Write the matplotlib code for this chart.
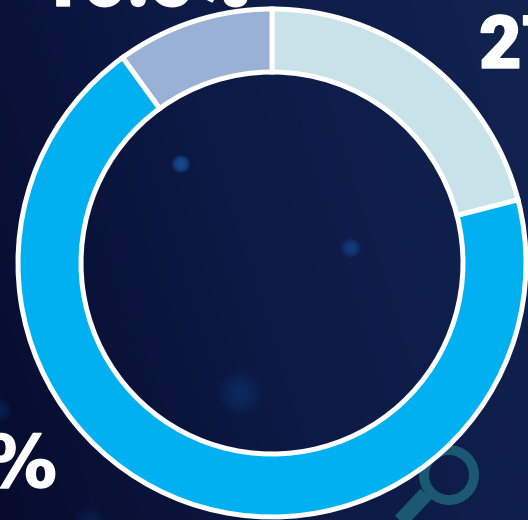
"""
Donut chart on a dark navy background
"""

import numpy as np
import matplotlib
matplotlib.use('Agg')
import matplotlib.pyplot as plt
import matplotlib.patheffects as pe
from matplotlib.colors import LinearSegmentedColormap
from matplotlib.patches import Wedge

# slices, clockwise from 12 o'clock
shares = [21, 69, 10]
colors = ['#c8e2e9', '#00b0f0', '#99b1d5']

# the labels are cut off by the crop of the original
label_texts = ['27', '%', '10.5%']

W, H = 528, 520

plt.rcParams['font.family'] = ['Roboto', 'DejaVu Sans']

fig = plt.figure(figsize=(W / 100, H / 100), dpi=100)
ax = fig.add_axes([0, 0, 1, 1])

# background gradient, darker on the left
bg_cmap = LinearSegmentedColormap.from_list('bg', ['#070c2e', '#0c1a45', '#11224f'])
gx, gy = np.meshgrid(np.linspace(0, 1, 264), np.linspace(0, 1, 260))
grad = np.clip(gx * 0.8 + (1 - gy) * 0.25, 0, 1)
ax.imshow(grad, cmap=bg_cmap, extent=(0, W, 0, H), origin='upper', aspect='auto', vmin=0, vmax=1, zorder=0)

# soft glow dots: x, y, radius, alpha of one layer
for gx0, gy0, r, a in [(181, 164, 9, 0.26), (351, 248, 10, 0.13), (240, 393, 22, 0.06),
                       (0, 410, 12, 0.05), (90, 522, 16, 0.04)]:
    for k in np.linspace(1, 0.2, 8):
        ax.add_patch(plt.Circle((gx0, H - gy0), r * k, color='#1a4f9a', alpha=a, lw=0, zorder=1))

# magnifier icon behind the ring
ax.add_patch(Wedge((449, H - 475), 30, 0, 360, width=10, color='#1b5872', lw=0, zorder=1))
ax.plot([426, 392], [H - 494, H - 530], color='#1b5872', lw=11, solid_capstyle='butt', zorder=1)

# donut
ax.pie(shares, colors=colors, startangle=90, counterclock=False,
       center=(272, H - 263), radius=254, frame=True,
       wedgeprops=dict(width=63, edgecolor='white', linewidth=3.6))

# labels, thickened with a white outline to get the heavy look
heavy = [pe.withStroke(linewidth=1, foreground='white')]
ax.text(479, H - 68, label_texts[0], fontsize=53, fontweight='black', color='white',
        ha='left', va='baseline', zorder=5, path_effects=heavy)
ax.text(57, H - 487, label_texts[1], fontsize=52, fontweight='bold', family=['DejaVu Sans'],
        color='white', ha='right', va='baseline', zorder=5, path_effects=heavy)
ax.text(251, H - 6, label_texts[2], fontsize=55, fontweight='black', color='white',
        ha='right', va='baseline', zorder=5, path_effects=heavy)

ax.set_xlim(0, W)
ax.set_ylim(0, H)
ax.set_aspect('auto')
ax.axis('off')

fig.savefig('out.png', dpi=100)
